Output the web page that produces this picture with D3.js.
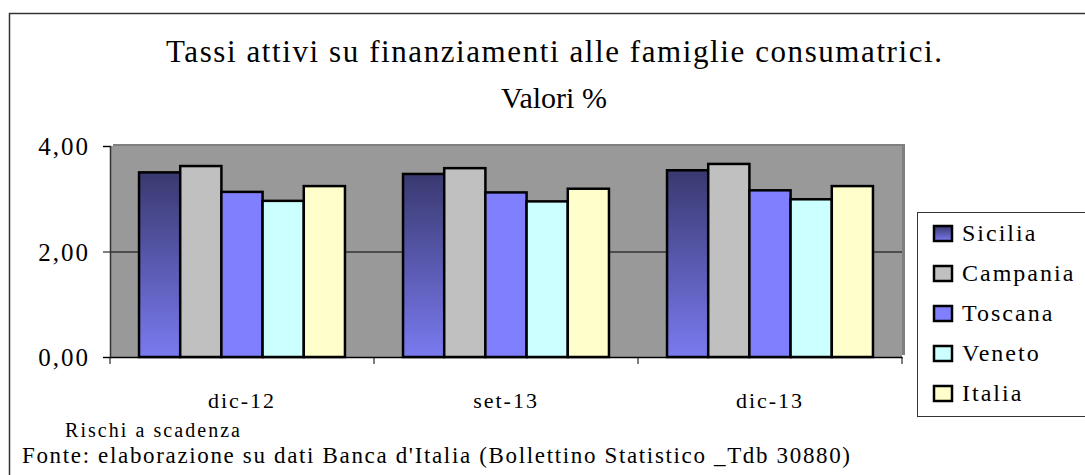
<!DOCTYPE html>
<html>
<head>
<meta charset="utf-8">
<title>Tassi attivi</title>
<script src="https://d3js.org/d3.v7.min.js"></script>
<style>
  body { margin: 0; background: #fff; }
  svg text { font-family: "Liberation Serif", "Times New Roman", "DejaVu Serif", serif !important; fill: #000; }
</style>
</head>
<body>
<svg id="chart" width="1085" height="475"></svg>
<script>
"use strict"

// dati
var categorie = ["dic-12", "set-13", "dic-13"];
var regioni = ["Sicilia", "Campania", "Toscana", "Veneto", "Italia"];
var sicilia  = [3.50, 3.47, 3.54];
var campania = [3.62, 3.58, 3.66];
var toscana  = [3.13, 3.12, 3.16];
var veneto   = [2.96, 2.95, 2.99];
var italia   = [3.24, 3.19, 3.24];
var yTicks = [0, 2, 4];
var yTickLabels = ["0,00", "2,00", "4,00"];

var valori = [sicilia, campania, toscana, veneto, italia];
var colori = ["url(#gradSicilia)", "#c0c0c0", "#8080ff", "#ccffff", "#ffffcc"];

var svg = d3.select("#chart");

// gradiente della Sicilia
var defs = svg.append("defs");
var grad = defs.append("linearGradient")
  .attr("id", "gradSicilia")
  .attr("x1", 0).attr("y1", 0).attr("x2", 0).attr("y2", 1);
grad.append("stop").attr("offset", "0%").attr("stop-color", "#393970");
grad.append("stop").attr("offset", "100%").attr("stop-color", "#7a7af0");

// cornice esterna
svg.append("rect")
  .attr("x", 9.5).attr("y", 13.5)
  .attr("width", 1100).attr("height", 500)
  .attr("fill", "#fff").attr("stroke", "#333").attr("stroke-width", 1.5);

// area del grafico
var plot = {left: 110, right: 902, top: 146, bottom: 357};

var x0 = d3.scaleBand()
  .domain(categorie)
  .range([plot.left, plot.right]);

var x1 = d3.scaleBand()
  .domain(regioni)
  .range([0, x0.bandwidth()])
  .paddingOuter(0.705);

var y = d3.scaleLinear()
  .domain([0, 4])
  .range([plot.bottom, plot.top]);

// ombra + sfondo grigio
svg.append("rect")
  .attr("x", plot.left + 3).attr("y", plot.top - 2)
  .attr("width", plot.right - plot.left).attr("height", plot.bottom - plot.top)
  .attr("fill", "#7f7f7f");
svg.append("rect")
  .attr("x", plot.left).attr("y", plot.top)
  .attr("width", plot.right - plot.left).attr("height", plot.bottom - plot.top)
  .attr("fill", "#999999");

// griglia
svg.append("g")
  .selectAll("line")
  .data(yTicks.filter(function(d) { return d > 0 && d < 4; }))
  .enter().append("line")
  .attr("x1", plot.left).attr("x2", plot.right)
  .attr("y1", function(d) { return y(d) + 0.5; })
  .attr("y2", function(d) { return y(d) + 0.5; })
  .attr("stroke", "#000").attr("stroke-width", 1);

// barre
var gruppi = svg.append("g")
  .selectAll("g")
  .data(categorie)
  .enter().append("g")
  .attr("transform", function(c) { return "translate(" + x0(c) + ",0)"; });

gruppi.selectAll("rect")
  .data(function(c, i) {
    return regioni.map(function(r, j) { return {regione: r, valore: valori[j][i], colore: colori[j]}; });
  })
  .enter().append("rect")
  .attr("x", function(d) { return x1(d.regione); })
  .attr("y", function(d) { return y(d.valore); })
  .attr("width", x1.bandwidth())
  .attr("height", function(d) { return y(0) - y(d.valore); })
  .attr("fill", function(d) { return d.colore; })
  .attr("stroke", "#000")
  .attr("stroke-width", 2.5);

// asse y
var asseY = d3.axisLeft(y)
  .tickValues(yTicks)
  .tickSize(7)
  .tickPadding(13)
  .tickFormat(function(d, i) { return yTickLabels[i]; });

var gy = svg.append("g")
  .attr("transform", "translate(" + plot.left + ",0)")
  .call(asseY);
gy.attr("font-family", null);
gy.select(".domain").attr("stroke", "#333").attr("stroke-width", 1.5);
gy.selectAll(".tick line").attr("stroke", "#000");
gy.selectAll("text")
  .style("font-size", "25px")
  .style("letter-spacing", "2px")
  .attr("dy", "0.35em");

// asse x
var gx = svg.append("g")
  .attr("transform", "translate(0," + plot.bottom + ")")
  .call(d3.axisBottom(x0).tickSize(0).tickPadding(35));
gx.attr("font-family", null);
gx.select(".domain").attr("stroke", "#000").attr("stroke-width", 1.5);
gx.selectAll("text")
  .style("font-size", "22px")
  .style("letter-spacing", "2px");

// tacche ai bordi delle categorie
svg.append("g")
  .selectAll("line")
  .data(categorie.concat(["fine"]))
  .enter().append("line")
  .attr("x1", function(c, i) { return i < categorie.length ? x0(c) : plot.right; })
  .attr("x2", function(c, i) { return i < categorie.length ? x0(c) : plot.right; })
  .attr("y1", plot.bottom).attr("y2", plot.bottom + 7)
  .attr("stroke", "#000");

// titolo
svg.append("text")
  .attr("x", 554).attr("y", 62)
  .attr("text-anchor", "middle")
  .attr("textLength", 776)
  .attr("lengthAdjust", "spacing")
  .style("font-size", "31px")
  .text("Tassi attivi su finanziamenti alle famiglie consumatrici.");
svg.append("text")
  .attr("x", 554).attr("y", 108)
  .attr("text-anchor", "middle")
  .style("font-size", "30px")
  .text("Valori %");

// legenda
var legX = 917, legY = 212;
svg.append("rect")
  .attr("x", legX + 0.5).attr("y", legY + 0.5)
  .attr("width", 200).attr("height", 204)
  .attr("fill", "#fff").attr("stroke", "#333").attr("stroke-width", 1);

var voci = svg.append("g")
  .selectAll("g")
  .data(regioni)
  .enter().append("g")
  .attr("transform", function(d, i) { return "translate(" + (legX + 17) + "," + (legY + 21 + i * 40) + ")"; });

voci.append("rect")
  .attr("x", 0).attr("y", -7)
  .attr("width", 18).attr("height", 15)
  .attr("fill", function(d, i) { return colori[i]; })
  .attr("stroke", "#000").attr("stroke-width", 2.5);

voci.append("text")
  .attr("x", 28).attr("y", 0)
  .attr("dy", "0.35em")
  .style("font-size", "24px")
  .style("letter-spacing", "2px")
  .text(function(d) { return d; });

// note
svg.append("text")
  .attr("x", 65).attr("y", 437)
  .attr("textLength", 175)
  .attr("lengthAdjust", "spacing")
  .style("font-size", "20px")
  .text("Rischi a scadenza");

svg.append("text")
  .attr("x", 22).attr("y", 463)
  .attr("textLength", 828)
  .attr("lengthAdjust", "spacing")
  .style("font-size", "23px")
  .text("Fonte: elaborazione su dati Banca d'Italia (Bollettino Statistico _Tdb 30880)");
</script>
</body>
</html>
